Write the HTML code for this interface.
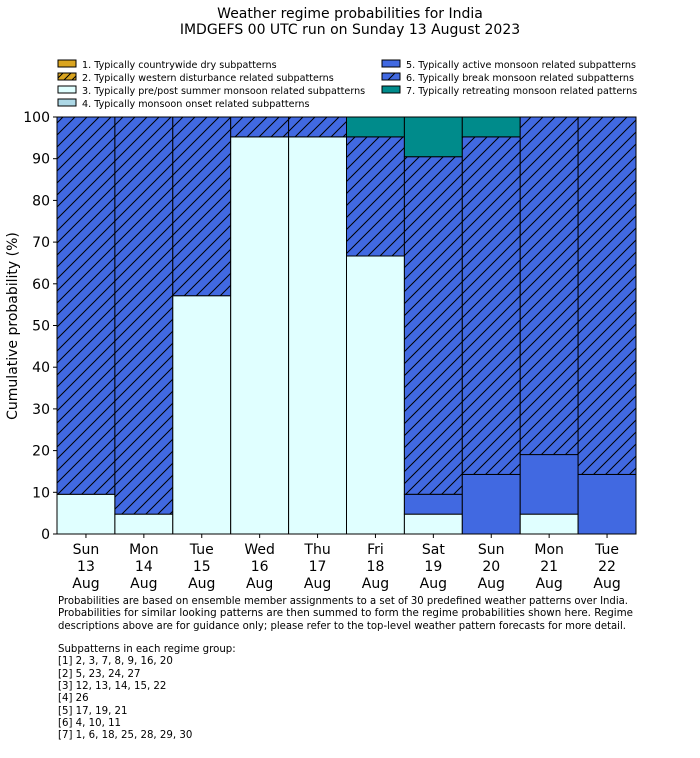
<!DOCTYPE html>
<html><head><meta charset="utf-8"><style>
body{margin:0;background:#fff;width:700px;height:754px;overflow:hidden;font-family:"DejaVu Sans","Liberation Sans",sans-serif;}
</style></head><body>
<svg width="700" height="754" style="font-family:'DejaVu Sans','Liberation Sans',sans-serif">
<defs>
<pattern id="hatch" patternUnits="userSpaceOnUse" width="12" height="12">
<rect width="12" height="12" fill="#4169e1"/>
<path d="M-3,3 L3,-3 M0,12 L12,0 M9,15 L15,9" stroke="#000" stroke-width="1"/>
</pattern>
<pattern id="hatch2" patternUnits="userSpaceOnUse" width="8" height="8">
<rect width="8" height="8" fill="#daa520"/>
<path d="M-2,2 L2,-2 M0,8 L8,0 M6,10 L10,6" stroke="#000" stroke-width="1"/>
</pattern>
</defs>
<text x="350" y="18" text-anchor="middle" font-size="14">Weather regime probabilities for India</text>
<text x="350" y="34" text-anchor="middle" font-size="14">IMDGEFS 00 UTC run on Sunday 13 August 2023</text>
<g id="legend" font-size="9.6"></g>
<g id="bars"></g>
<g id="axes"></g>
<text transform="translate(17,326) rotate(-90)" text-anchor="middle" font-size="14">Cumulative probability (%)</text>
<g font-size="10.2">
<text x="58" y="604" textLength="570" lengthAdjust="spacingAndGlyphs">Probabilities are based on ensemble member assignments to a set of 30 predefined weather patterns over India.</text>
<text x="58" y="616" textLength="575" lengthAdjust="spacingAndGlyphs">Probabilities for similar looking patterns are then summed to form the regime probabilities shown here. Regime</text>
<text x="58" y="629" textLength="568" lengthAdjust="spacingAndGlyphs">descriptions above are for guidance only; please refer to the top-level weather pattern forecasts for more detail.</text>
<text x="58" y="652">Subpatterns in each regime group:</text>
<text x="58" y="664">[1] 2, 3, 7, 8, 9, 16, 20</text>
<text x="58" y="677">[2] 5, 23, 24, 27</text>
<text x="58" y="689">[3] 12, 13, 14, 15, 22</text>
<text x="58" y="701">[4] 26</text>
<text x="58" y="714">[5] 17, 19, 21</text>
<text x="58" y="726">[6] 4, 10, 11</text>
<text x="58" y="738">[7] 1, 6, 18, 25, 28, 29, 30</text>
</g>
</svg>
<script>
const days=["Sun|13|Aug","Mon|14|Aug","Tue|15|Aug","Wed|16|Aug","Thu|17|Aug","Fri|18|Aug","Sat|19|Aug","Sun|20|Aug","Mon|21|Aug","Tue|22|Aug"];
const members=21;
const cat1=[0,0,0,0,0,0,0,0,0,0];
const cat2=[0,0,0,0,0,0,0,0,0,0];
const cat3=[2,1,12,20,20,14,1,0,1,0];
const cat4=[0,0,0,0,0,0,0,0,0,0];
const cat5=[0,0,0,0,0,0,1,3,3,3];
const cat6=[19,20,9,1,1,6,17,17,17,18];
const cat7=[0,0,0,0,0,1,2,1,0,0];
const yTicks=[0,10,20,30,40,50,60,70,80,90,100];
const labels=["1. Typically countrywide dry subpatterns","2. Typically western disturbance related subpatterns","3. Typically pre/post summer monsoon related subpatterns","4. Typically monsoon onset related subpatterns","5. Typically active monsoon related subpatterns","6. Typically break monsoon related subpatterns","7. Typically retreating monsoon related patterns"];
const fills=["#daa520","url(#hatch2)","#e0ffff","#add8e6","#4169e1","url(#hatch)","#008b8b"];
const series=[cat1,cat2,cat3,cat4,cat5,cat6,cat7];
const NS="http://www.w3.org/2000/svg";
const X0=57,X1=636,Y0=534,Y1=117;
const bw=(X1-X0)/days.length;
const x=i=>X0+i*bw;
const y=v=>Y0-(v/100)*(Y0-Y1);
function mk(t,a,p){const e=document.createElementNS(NS,t);for(const k in a)e.setAttribute(k,a[k]);p.appendChild(e);return e;}
const bars=document.getElementById('bars');
days.forEach((d,i)=>{let cum=0;
 series.forEach((s,k)=>{const v=s[i]/members*100;if(v<=0)return;
  const r=mk('rect',{x:x(i),y:y(cum+v),width:bw,height:y(cum)-y(cum+v),fill:fills[k],stroke:'#000','stroke-width':1},bars);
  
  
  cum+=v;});
});
const ax=document.getElementById('axes');
const fr=mk('rect',{x:X0,y:Y1,width:X1-X0,height:Y0-Y1,fill:'none',stroke:'#000','stroke-width':1},ax);

yTicks.forEach(t=>{mk('line',{x1:X0-4,x2:X0,y1:y(t),y2:y(t),stroke:'#000'},ax);
 const tx=mk('text',{x:X0-7,y:y(t)+5,'text-anchor':'end','font-size':14},ax);tx.textContent=t;
 });
days.forEach((d,i)=>{const cx=x(i)+bw/2;mk('line',{x1:cx,x2:cx,y1:Y0,y2:Y0+4,stroke:'#000'},ax);
 d.split('|').forEach((p,j)=>{const tx=mk('text',{x:cx,y:Y0+20+j*17,'text-anchor':'middle','font-size':14},ax);tx.textContent=p;
 });});
const lg=document.getElementById('legend');
labels.forEach((l,k)=>{const col=k<4?0:1,row=k<4?k:k-4;const lx=col?382:58,ly=60+row*13;
 const r=mk('rect',{x:lx,y:ly,width:18,height:7,fill:fills[k],stroke:'#000','stroke-width':1},lg);
 
 const t=mk('text',{x:lx+24,y:ly+8},lg);t.textContent=l;
 });
</script>
</body></html>
